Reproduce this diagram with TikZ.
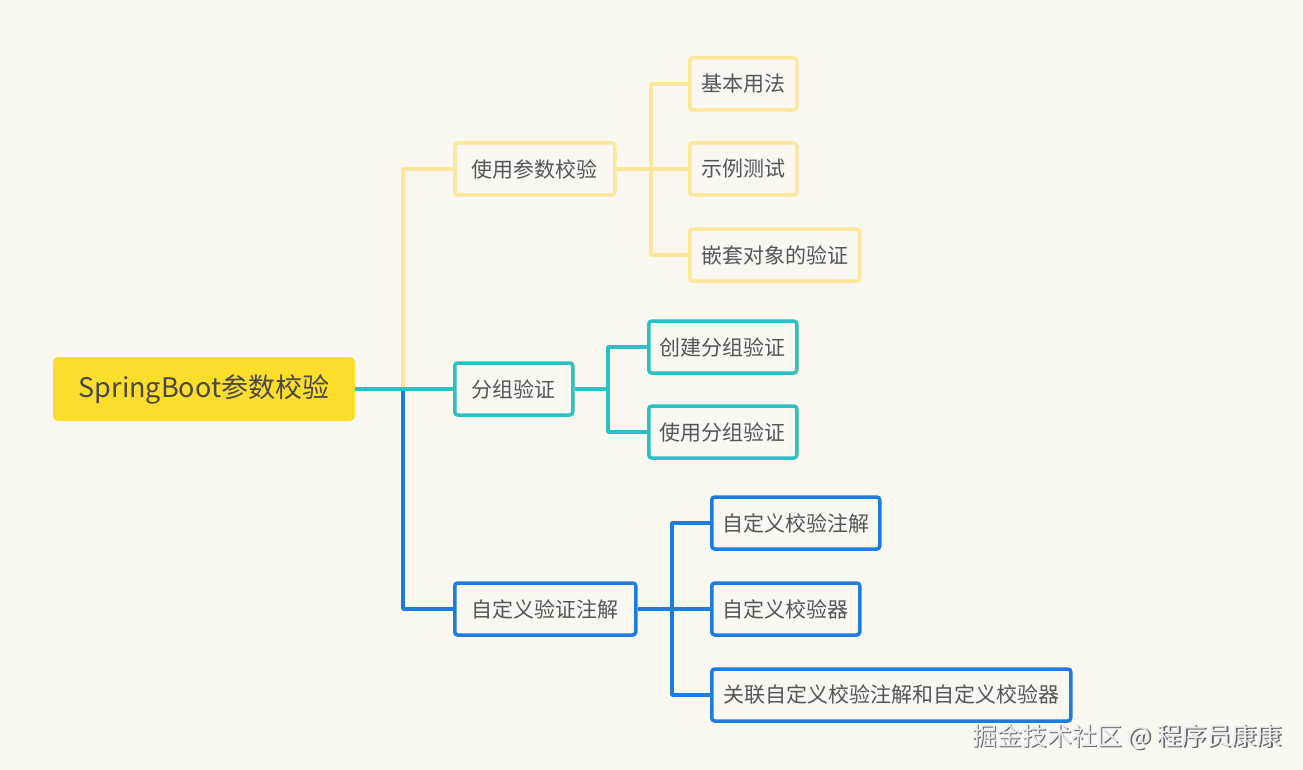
\documentclass[tikz,border=0pt]{standalone}
\usepackage{fontspec}
\setmainfont{Noto Sans CJK SC}
\usetikzlibrary{positioning, calc}
\definecolor{fondo}{HTML}{FBF8F1}
\definecolor{oro}{HTML}{FCDD2C}
\definecolor{amarillito}{HTML}{FFE79A}
\definecolor{turquesa}{HTML}{2BBFC6}
\definecolor{azulito}{HTML}{1A7DE3}
\definecolor{texto}{HTML}{555555}
\tikzset{
  caja/.style={draw, line width=3.5pt, rounded corners=3pt, fill=fondo, anchor=west,
    minimum height=52pt, inner xsep=0pt, text=texto,
    font=\fontsize{21}{25}\selectfont},
  rama/.style={line width=3.5pt, line join=round},
}
\begin{document}
\begin{tikzpicture}[x=1pt, y=-1pt]
    % background
    \fill[fondo] (0,0) rectangle (1303,770);
    \useasboundingbox (0,0) rectangle (1303,770);
    % root
    \node[fill=oro, rounded corners=5pt, minimum width=302pt, minimum height=64pt,
      text=texto!85!black, font=\fontsize{27}{31}\selectfont] (raiz) at (204,389) {SpringBoot参数校验};
    % first level
    \node[caja, draw=amarillito, minimum width=160pt] (uso) at (453,169) {使用参数校验};
    \node[caja, draw=turquesa, minimum width=118pt] (grupo) at (453,389) {分组验证};
    \node[caja, draw=azulito, minimum width=181pt] (propio) at (453,609) {自定义验证注解};
    % second level, yellow
    \node[caja, draw=amarillito, minimum width=107pt] (basico) at (688,84) {基本用法};
    \node[caja, draw=amarillito, minimum width=107pt] (ejemplo) at (688,169) {示例测试};
    \node[caja, draw=amarillito, minimum width=170pt] (anidado) at (688,255) {嵌套对象的验证};
    % second level, teal
    \node[caja, draw=turquesa, minimum width=148pt] (crear) at (647,347) {创建分组验证};
    \node[caja, draw=turquesa, minimum width=148pt] (usar) at (647,432) {使用分组验证};
    % second level, blue
    \node[caja, draw=azulito, minimum width=168pt] (anota) at (710,523) {自定义校验注解};
    \node[caja, draw=azulito, minimum width=148pt] (valida) at (710,609) {自定义校验器};
    \node[caja, draw=azulito, minimum width=359pt] (asocia) at (710,695) {关联自定义校验注解和自定义校验器};
    % junctions
    \coordinate (j0) at (403,389);
    \coordinate (j1) at (651,169);
    \coordinate (j2) at (608,389);
    \coordinate (j3) at (672,609);
    % root branches
    \draw[rama, amarillito] (j0) |- (uso.west);
    \draw[rama, azulito] (j0) |- (propio.west);
    \draw[rama, turquesa] (raiz.east) -- (grupo.west);
    % yellow branches
    \draw[rama, amarillito] (uso.east) -- (ejemplo.west);
    \draw[rama, amarillito] (j1) |- (basico.west);
    \draw[rama, amarillito] (j1) |- (anidado.west);
    % teal branches
    \draw[rama, turquesa] (grupo.east) -- (j2);
    \draw[rama, turquesa] (j2) |- (crear.west);
    \draw[rama, turquesa] (j2) |- (usar.west);
    % blue branches
    \draw[rama, azulito] (propio.east) -- (valida.west);
    \draw[rama, azulito] (j3) |- (anota.west);
    \draw[rama, azulito] (j3) |- (asocia.west);
    % watermark
    \node[text=black!60, font=\fontsize{25}{29}\selectfont] (marca0) at (1128.5,738.5) {掘金技术社区 @ 程序员康康};
    \node[text=black!8, font=\fontsize{25}{29}\selectfont] (marca) at (1127,737) {掘金技术社区 @ 程序员康康};
\end{tikzpicture}
\end{document}
